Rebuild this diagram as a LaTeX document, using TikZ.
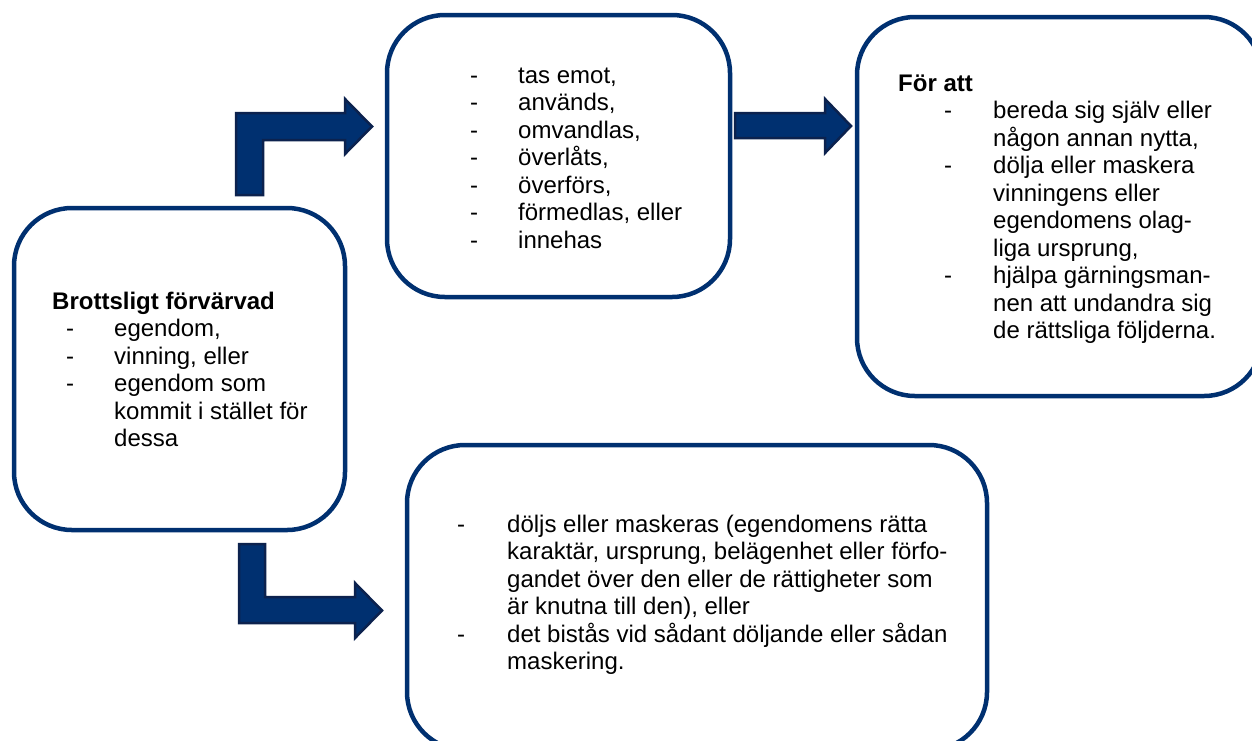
\documentclass[tikz,border=0pt]{standalone}
\usepackage{fontspec}
\setmainfont{Liberation Sans}
\definecolor{navy}{RGB}{0,48,112}
\definecolor{navydark}{RGB}{12,34,78}
\newcommand\itm[3]{\makebox[#2][l]{\hspace*{#1}-}#3}
\begin{document}
\begin{tikzpicture}[x=1pt,y=-1pt,
  boxstyle/.style={draw=navy,line width=4.5pt,rounded corners=58pt,fill=white,inner sep=0pt,rectangle},
  txt/.style={anchor=base west,inner sep=0pt,font=\fontsize{24}{27.5}\selectfont},
  blockarrow/.style={fill=navy,draw=navydark,line width=2.5pt,line join=miter}]
\useasboundingbox (0,0) rectangle (1252,740);
\clip (0,0) rectangle (1252,740);
\fill[white] (0,0) rectangle (1252,740);
% boxes
\node[boxstyle,minimum width=331pt,minimum height=322pt] (A) at (179.5,369) {};
\node[boxstyle,minimum width=343pt,minimum height=282pt] (B) at (558.5,156) {};
\node[boxstyle,minimum width=405pt,minimum height=379pt] (C) at (1059.5,206.5) {};
\node[boxstyle,minimum width=580pt,minimum height=305pt] (D) at (697,597.5) {};
% block arrows
\draw[blockarrow] (236,195) -- (236,113) -- (345,113) -- (345,99) -- (372,126.5) -- (345,154) -- (345,140) -- (263,140) -- (263,195) -- cycle;
\draw[blockarrow] (239,544) -- (239,623) -- (355,623) -- (355,638) -- (382,610.5) -- (355,583) -- (355,597) -- (265,597) -- (265,544) -- cycle;
\draw[blockarrow] (735,113) -- (825,113) -- (825,99) -- (851,126) -- (825,153) -- (825,138) -- (735,138) -- cycle;
% texts
\node[txt] (tA) at (52,309) {\fontsize{24}{27.5}\selectfont\begin{tabular}[t]{@{}l@{}}
\textbf{Brottsligt förvärvad}\\
\itm{14pt}{62pt}{egendom,}\\
\itm{14pt}{62pt}{vinning, eller}\\
\itm{14pt}{62pt}{egendom som}\\
\hspace*{62pt}kommit i stället för\\
\hspace*{62pt}dessa
\end{tabular}};
\node[txt] (tB) at (470,83) {\fontsize{24}{27.5}\selectfont\begin{tabular}[t]{@{}l@{}}
\itm{0pt}{48pt}{tas emot,}\\
\itm{0pt}{48pt}{används,}\\
\itm{0pt}{48pt}{omvandlas,}\\
\itm{0pt}{48pt}{överlåts,}\\
\itm{0pt}{48pt}{överförs,}\\
\itm{0pt}{48pt}{förmedlas, eller}\\
\itm{0pt}{48pt}{innehas}
\end{tabular}};
\node[txt] (tC) at (898,91) {\fontsize{24}{27.5}\selectfont\begin{tabular}[t]{@{}l@{}}
\textbf{För att}\\
\itm{46pt}{95pt}{bereda sig själv eller}\\
\hspace*{95pt}någon annan nytta,\\
\itm{46pt}{95pt}{dölja eller maskera}\\
\hspace*{95pt}vinningens eller\\
\hspace*{95pt}egendomens olag-\\
\hspace*{95pt}liga ursprung,\\
\itm{46pt}{95pt}{hjälpa gärningsman-}\\
\hspace*{95pt}nen att undandra sig\\
\hspace*{95pt}de rättsliga följderna.
\end{tabular}};
\node[txt] (tD) at (457,532) {\fontsize{24}{27.5}\selectfont\begin{tabular}[t]{@{}l@{}}
\itm{0pt}{50pt}{döljs eller maskeras (egendomens rätta}\\
\hspace*{50pt}karaktär, ursprung, belägenhet eller förfo-\\
\hspace*{50pt}gandet över den eller de rättigheter som\\
\hspace*{50pt}är knutna till den), eller\\
\itm{0pt}{50pt}{det bistås vid sådant döljande eller sådan}\\
\hspace*{50pt}maskering.
\end{tabular}};
\end{tikzpicture}
\end{document}
